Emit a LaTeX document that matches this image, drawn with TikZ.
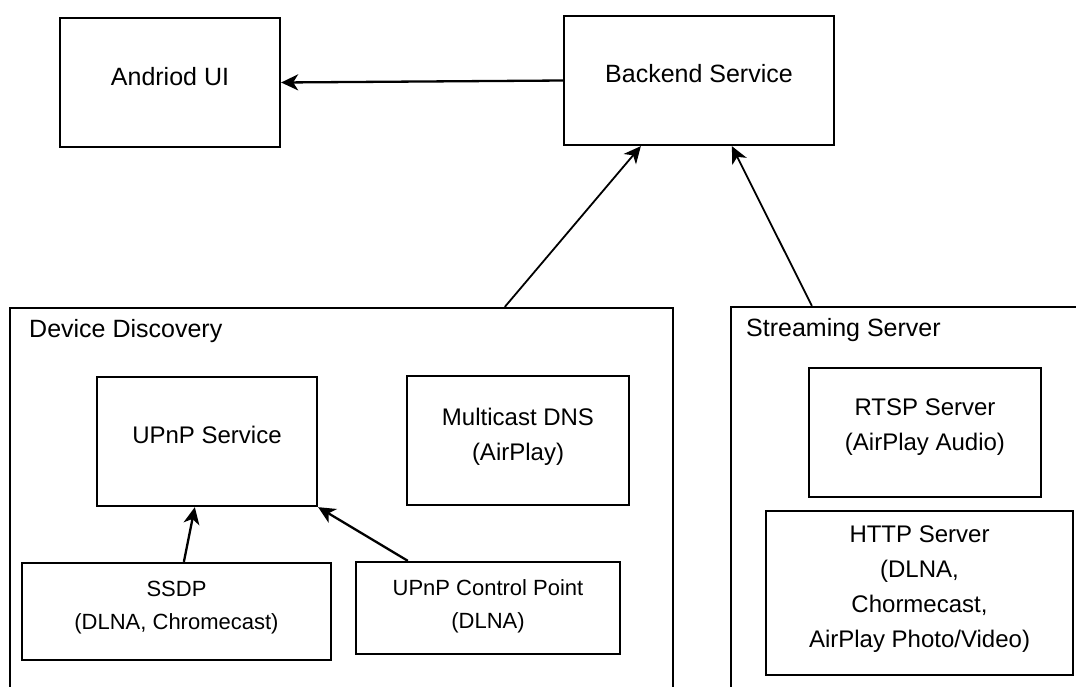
\documentclass[tikz,border=0pt]{standalone}
\usepackage{fontspec}
\setmainfont{Liberation Sans}
\usetikzlibrary{arrows.meta,calc}
\begin{document}
\begin{tikzpicture}[x=1pt,y=-1pt,
  box/.style={draw, line width=2.3pt, inner sep=0pt, rectangle},
  big/.style={font=\fontsize{25}{30}\selectfont, inner sep=0pt},
  mid/.style={font=\fontsize{24}{35}\selectfont, inner sep=0pt, align=center},
  small/.style={font=\fontsize{22}{33}\selectfont, inner sep=0pt, align=center},
  arr/.style={line width=2.3pt, -{Stealth[length=17pt,width=16pt,inset=5pt]}},
  thinarr/.style={line width=1.8pt, -{Stealth[length=17pt,width=16pt,inset=5pt]}},
]
\useasboundingbox (0,0) rectangle (1076,686);
\clip (0,0) rectangle (1076,686);
\fill[white] (0,0) rectangle (1076,686);

% boxes
\node[box, minimum width=220, minimum height=129] (ui) at (170,82.5) {};
\node[box, minimum width=270, minimum height=129] (back) at (699,80.5) {};
\node[box, minimum width=663, minimum height=402] (dd) at (341.5,509) {};
\node[box, minimum width=364, minimum height=403] (ss) at (913,508.5) {};
\node[box, minimum width=220, minimum height=129] (upnp) at (207,441.5) {};
\node[box, minimum width=222, minimum height=129] (mdns) at (518,440.5) {};
\node[box, minimum width=309, minimum height=97] (ssdp) at (176.5,611.5) {};
\node[box, minimum width=264, minimum height=92] (cp) at (488,608) {};
\node[box, minimum width=232, minimum height=129] (rtsp) at (925,432.5) {};
\node[box, minimum width=307, minimum height=164] (http) at (919.5,593) {};

% texts
\node[big, anchor=base] (uitxt) at (170,85) {Andriod UI};
\node[big, anchor=base] (backtxt) at (699,82) {Backend Service};
\node[big, anchor=base west] (ddtxt) at (29,337) {Device Discovery};
\node[big, anchor=base west] (sstxt) at (746,336) {Streaming Server};
\node[mid, anchor=base] (upnptxt) at (207,443) {UPnP Service};
\node[mid, anchor=north] (mdnstxt) at (518,407.8) {Multicast DNS\\(AirPlay)};
\node[mid, anchor=north] (rtsptxt) at (925,398.8) {RTSP Server\\(AirPlay Audio)};
\node[mid, anchor=north] (httptxt) at (919.5,525.8) {HTTP Server\\(DLNA,\\Chormecast,\\AirPlay Photo/Video)};
\node[small, anchor=north] (ssdptxt) at (176.5,581.2) {SSDP\\(DLNA, Chromecast)};
\node[small, anchor=north] (cptxt) at (488,579.2) {UPnP Control Point\\(DLNA)};

% connectors
\draw[arr] (back.west) -- (ui.east);
\draw[thinarr] ($(dd.north west)+(496,0)$) -- ($(back.south west)+(78,0)$);
\draw[thinarr] ($(ss.north west)+(82,0)$) -- ($(back.south west)+(169,0)$);
\draw[arr] ($(ssdp.north west)+(163,0)$) -- ($(upnp.south west)+(99,0)$);
\draw[arr] ($(cp.north west)+(53,0)$) -- (upnp.south east);
\end{tikzpicture}
\end{document}
